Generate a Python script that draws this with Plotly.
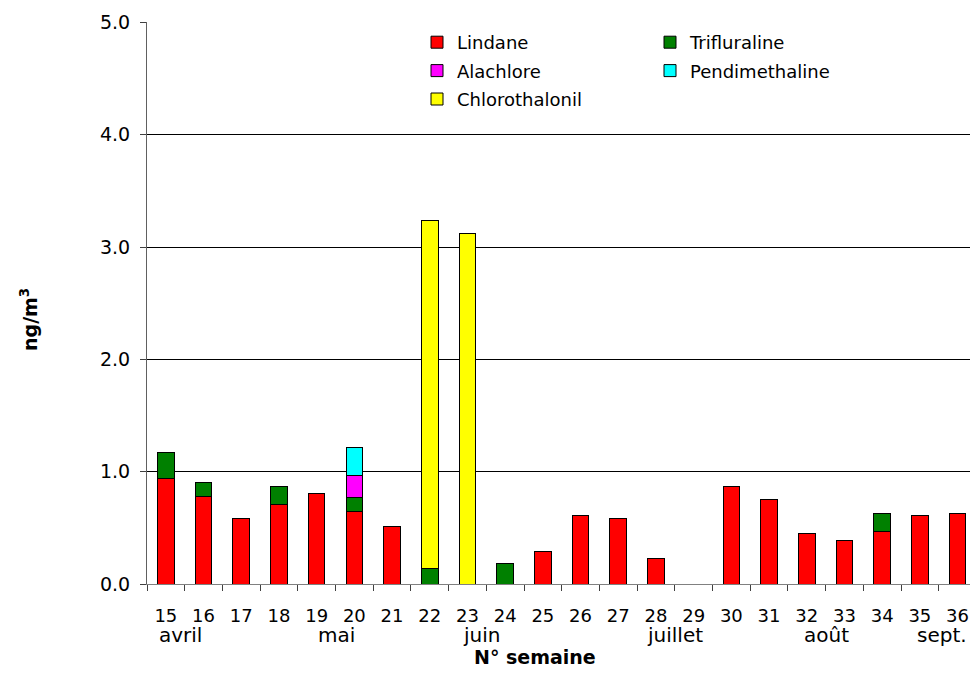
import plotly.graph_objects as go

weeks = [str(w) for w in range(15, 37)]
lindane = [0.94, 0.78, 0.58, 0.71, 0.81, 0.65, 0.51, None, None, None, 0.29,
           0.61, 0.58, 0.23, None, 0.87, 0.75, 0.45, 0.39, 0.47, 0.61, 0.63]
trifluraline = [0.23, 0.125, None, 0.157, None, 0.12, None, 0.134, None, 0.18, None,
                None, None, None, None, None, None, None, None, 0.16, None, None]
alachlore = [None, None, None, None, None, 0.196, None, None, None, None, None,
             None, None, None, None, None, None, None, None, None, None, None]
pendimethaline = [None, None, None, None, None, 0.245, None, None, None, None, None,
                  None, None, None, None, None, None, None, None, None, None, None]
chlorothalonil = [None, None, None, None, None, None, None, 3.10, 3.12, None, None,
                  None, None, None, None, None, None, None, None, None, None, None]
months = ["avril", "mai", "juin", "juillet", "août", "sept."]

FONT = "DejaVu Sans"

series = [
    ("Lindane", lindane, "#FF0000", "legend"),
    ("Trifluraline", trifluraline, "#008000", "legend2"),
    ("Alachlore", alachlore, "#FF00FF", "legend"),
    ("Pendimethaline", pendimethaline, "#00FFFF", "legend2"),
    ("Chlorothalonil", chlorothalonil, "#FFFF00", "legend"),
]

fig = go.Figure()
for name, vals, col, lg in series:
    fig.add_trace(go.Bar(
        x=weeks, y=vals, name=name, legend=lg, legendgroup=name,
        marker=dict(color=col, line=dict(color="black", width=1)),
    ))

# page body has an 8px margin on each side; figure coordinates = window pixels - 8
OFF = 8
W, H = 978 - 2 * OFF, 688 - 2 * OFF
L, R, T = 147 - OFF, 0, 22 - OFF
B = H - (584 - OFF)
pw, ph = W - L - R, H - T - B
CAT_PX = 37.7
x_hi = -0.5 + pw / CAT_PX

def px_x(p):
    return (p - OFF - L) / pw

def px_y(p):
    return 1 - (p - OFF - T) / ph

legend_common = dict(
    font=dict(family=FONT, size=18, color="black"),
    bgcolor="rgba(0,0,0,0)", borderwidth=0, orientation="v",
    xanchor="left", yanchor="top", tracegroupgap=2, itemwidth=30,
)

fig.update_layout(
    width=W, height=H,
    margin=dict(l=L, r=R, t=T, b=B, autoexpand=False),
    paper_bgcolor="white", plot_bgcolor="white",
    barmode="stack", bargap=0.56,
    font=dict(family=FONT, color="black"),
    legend=dict(x=px_x(417), y=px_y(24), **legend_common),
    legend2=dict(x=px_x(650), y=px_y(24), **legend_common),
    xaxis=dict(
        type="category", range=[-0.5, x_hi], tickson="boundaries",
        ticks="outside", ticklen=6, tickcolor="#404040",
        showline=True, linecolor="#808080", linewidth=1,
        showgrid=False, tickfont=dict(family=FONT, size=18, color="black"),
        ticklabelstandoff=15, automargin=False,
    ),
    yaxis=dict(
        range=[0, 5.004], tickvals=[0, 1, 2, 3, 4, 5], tickformat=".1f",
        ticks="outside", ticklen=6, tickcolor="#404040",
        showline=True, linecolor="#606060", linewidth=1,
        showgrid=True, gridcolor="black", gridwidth=1,
        tickfont=dict(family=FONT, size=19, color="black"),
        ticklabelstandoff=6, zeroline=False, automargin=False,
    ),
    showlegend=True,
)

month_left_px = [157, 316, 461, 645, 802, 915]
for label, lx in zip(months, month_left_px):
    fig.add_annotation(
        x=px_x(lx), xref="paper", y=0, yref="paper",
        text=label, showarrow=False, xanchor="left", yanchor="middle",
        yshift=-(635 - 584),
        font=dict(family=FONT, size=20, color="black"),
    )

fig.add_annotation(
    x=px_x(535), xref="paper", y=px_y(657), yref="paper",
    text="<b>N° semaine</b>", showarrow=False, xanchor="center", yanchor="middle",
    font=dict(family=FONT, size=19, color="black"),
)
fig.add_annotation(
    x=px_x(29), xref="paper", y=px_y(320), yref="paper",
    text="<b>ng/m<sup>3</sup></b>", showarrow=False, textangle=-90,
    xanchor="center", yanchor="middle",
    font=dict(family=FONT, size=19, color="black"),
)

fig.write_html("out.html")
